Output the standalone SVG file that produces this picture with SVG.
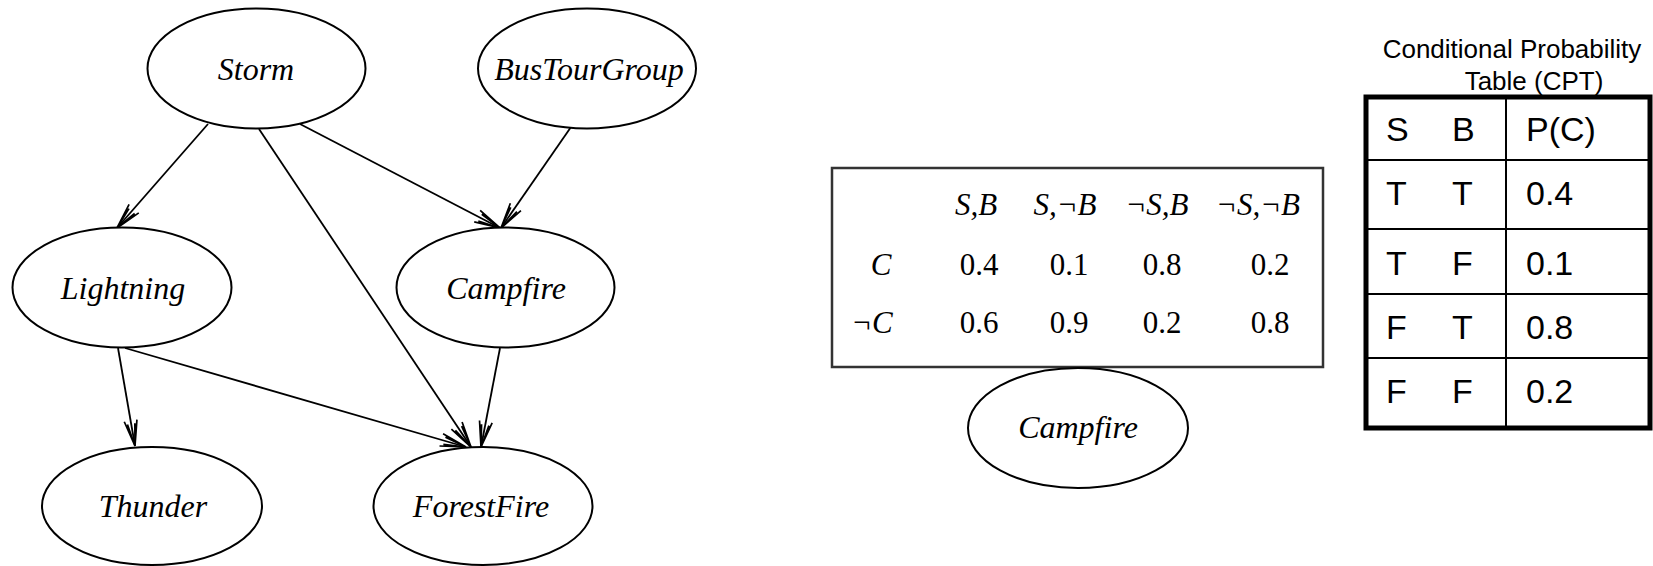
<svg xmlns="http://www.w3.org/2000/svg" width="1653" height="566" viewBox="0 0 1653 566">
<style>
.node ellipse{fill:#fff;stroke:#000;stroke-width:2}
.lbl{font-family:"Liberation Serif",serif;font-style:italic;font-size:32px;text-anchor:middle;fill:#000}
.edge line{stroke:#000;stroke-width:1.8;fill:none}
.tt{font-family:"Liberation Serif",serif;font-size:31px;text-anchor:middle;fill:#000}
.ti{font-style:italic}
.sans{font-family:"Liberation Sans",Arial,sans-serif;fill:#000}
</style>
<defs>
<marker id="arr" markerUnits="userSpaceOnUse" markerWidth="30" markerHeight="20" viewBox="-2 -8 28 16" refX="24" refY="0" orient="auto">
<path d="M0,-6 L24,0 L0,6 M3,-3.5 L24,0 L3,3.5" fill="none" stroke="#000" stroke-width="1.6"/>
</marker>
</defs>
<rect width="1653" height="566" fill="#fff"/>
<g id="connectors" class="edge">
<line x1="208" y1="124" x2="117" y2="228" marker-end="url(#arr)"/>
<line x1="259" y1="129" x2="471" y2="447" marker-end="url(#arr)"/>
<line x1="300" y1="124" x2="500" y2="228" marker-end="url(#arr)"/>
<line x1="571" y1="127" x2="501" y2="228" marker-end="url(#arr)"/>
<line x1="118" y1="348" x2="135" y2="446" marker-end="url(#arr)"/>
<line x1="125" y1="348" x2="466" y2="447" marker-end="url(#arr)"/>
<line x1="500" y1="348" x2="481" y2="447" marker-end="url(#arr)"/>
</g>
<g id="storm" class="node"><ellipse cx="256.5" cy="68.5" rx="109" ry="60"/><text class="lbl" x="256" y="80">Storm</text></g>
<g id="bustourgroup" class="node"><ellipse cx="587" cy="68.5" rx="109" ry="60"/><text class="lbl" x="589" y="80">BusTourGroup</text></g>
<g id="lightning" class="node"><ellipse cx="122" cy="287.5" rx="109.5" ry="60"/><text class="lbl" x="123" y="299">Lightning</text></g>
<g id="campfire" class="node"><ellipse cx="505.5" cy="287.5" rx="109" ry="60"/><text class="lbl" x="506" y="299">Campfire</text></g>
<g id="thunder" class="node"><ellipse cx="152" cy="506" rx="110" ry="59"/><text class="lbl" x="153" y="517">Thunder</text></g>
<g id="forestfire" class="node"><ellipse cx="483" cy="506" rx="109.5" ry="59"/><text class="lbl" x="481" y="517">ForestFire</text></g>
<g id="cpt-box">
<rect x="832" y="168" width="491" height="199" fill="#fff" stroke="#333" stroke-width="2.5"/>
<text class="tt ti" x="976" y="215">S,B</text>
<text class="tt ti" x="1065" y="215">S,¬B</text>
<text class="tt ti" x="1157" y="215">¬S,B</text>
<text class="tt ti" x="1258" y="215">¬S,¬B</text>
<text class="tt ti" x="881" y="275">C</text>
<text class="tt" x="979" y="275">0.4</text>
<text class="tt" x="1069" y="275">0.1</text>
<text class="tt" x="1162" y="275">0.8</text>
<text class="tt" x="1270" y="275">0.2</text>
<text class="tt ti" x="872" y="333">¬C</text>
<text class="tt" x="979" y="333">0.6</text>
<text class="tt" x="1069" y="333">0.9</text>
<text class="tt" x="1162" y="333">0.2</text>
<text class="tt" x="1270" y="333">0.8</text>
</g>
<g id="campfire2" class="node"><ellipse cx="1078" cy="428" rx="110" ry="60"/><text class="lbl" x="1078" y="438">Campfire</text></g>
<g id="cpt-table">
<text class="sans" x="1512" y="58" font-size="26" text-anchor="middle">Conditional Probability</text>
<text class="sans" x="1534" y="90" font-size="26" text-anchor="middle">Table (CPT)</text>
<g stroke="#000" stroke-width="2">
<line x1="1366" y1="160" x2="1651" y2="160"/>
<line x1="1366" y1="229" x2="1651" y2="229"/>
<line x1="1366" y1="294" x2="1651" y2="294"/>
<line x1="1366" y1="358" x2="1651" y2="358"/>
<line x1="1506" y1="97" x2="1506" y2="428"/>
</g>
<rect x="1366" y="97" width="284" height="331" fill="none" stroke="#000" stroke-width="5"/>
<g class="sans" font-size="34">
<text x="1386" y="141">S</text><text x="1452" y="141">B</text><text x="1526" y="141">P(C)</text>
<text x="1386" y="205">T</text><text x="1452" y="205">T</text><text x="1526" y="205">0.4</text>
<text x="1386" y="275">T</text><text x="1452" y="275">F</text><text x="1526" y="275">0.1</text>
<text x="1386" y="339">F</text><text x="1452" y="339">T</text><text x="1526" y="339">0.8</text>
<text x="1386" y="403">F</text><text x="1452" y="403">F</text><text x="1526" y="403">0.2</text>
</g>
</g>
</svg>
